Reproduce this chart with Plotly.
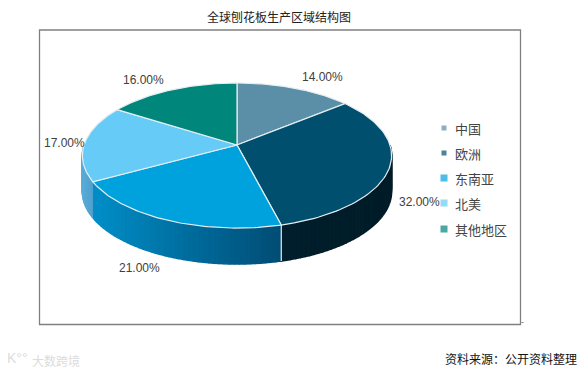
import numpy as np
import plotly.graph_objects as go

title = "全球刨花板生产区域结构图"
source = "资料来源：公开资料整理"
watermark = "大数跨境"
categories = ["中国", "欧洲", "东南亚", "北美", "其他地区"]
shares = [14, 32, 21, 17, 16]
colors = ["#5b8fa8", "#004f6e", "#00a2de", "#66ccf7", "#00867a"]
side_left = [None, (0, 30, 44), (0, 142, 200), (90, 172, 214), None]
side_right = [None, (0, 28, 40), (0, 76, 116), (80, 160, 205), None]
label_xy = [(322, 77), (419, 202), (139, 268), (64, 143), (143, 80)]
legend_y = [128, 153, 178, 203, 229]
legend_size = [6, 6, 8, 8, 8]

CX, CY, B, A, K, DEPTH = 237, 145, 153, 71, 0.145, 36
OFF = 8  # page body margin


def project(t):
    t = np.asarray(t, dtype=float)
    x, z = np.sin(t), np.cos(t)
    d = 1 + K * z
    return CX + B * x / d, CY - A * z / d


fig = go.Figure()


def poly(xs, ys, fill, line="rgba(0,0,0,0)", width=0):
    fig.add_trace(go.Scatter(x=list(xs), y=list(ys), mode="lines", fill="toself",
                             fillcolor=fill, line=dict(color=line, width=width),
                             showlegend=False, hoverinfo="skip"))


edges = np.radians(np.cumsum([0] + shares) * 3.6)

# side wall (front half only)
for i in range(len(shares)):
    if side_left[i] is None:
        continue
    a0, a1 = max(edges[i], np.pi / 2), min(edges[i + 1], 3 * np.pi / 2)
    if a1 <= a0:
        continue
    ts = np.linspace(a0, a1, 46)
    x, y = project(ts)
    lo, hi = x.min(), x.max()
    for j in range(len(ts) - 1):
        u = ((x[j] + x[j + 1]) / 2 - lo) / (hi - lo)
        c = [round(side_left[i][k] + (side_right[i][k] - side_left[i][k]) * u) for k in range(3)]
        col = f"rgb({c[0]},{c[1]},{c[2]})"
        poly([x[j], x[j + 1], x[j + 1], x[j]],
             [y[j], y[j + 1], y[j + 1] + DEPTH, y[j] + DEPTH], col, col, 1.5)

# white seam on the front wall
sx, sy = project(edges[2])
fig.add_trace(go.Scatter(x=[sx, sx], y=[sy, sy + DEPTH], mode="lines",
                         line=dict(color="#e8eef2", width=1.2),
                         showlegend=False, hoverinfo="skip"))

# top face
for i in range(len(shares)):
    ts = np.linspace(edges[i], edges[i + 1], 80)
    x, y = project(ts)
    poly(np.r_[CX, x, CX], np.r_[CY, y, CY], colors[i], "#e6eef2", 1.2)

# legend markers
fig.add_trace(go.Scatter(x=[444] * 2, y=legend_y[:2], mode="markers",
                         marker=dict(symbol="square", size=legend_size[:2], color=colors[:2]),
                         showlegend=False, hoverinfo="skip"))
fig.add_trace(go.Scatter(x=[444] * 3, y=legend_y[2:], mode="markers",
                         marker=dict(symbol="square", size=legend_size[2:], color=colors[2:]),
                         showlegend=False, hoverinfo="skip"))

ann = []
LAT = "Liberation Sans, Arial, sans-serif"
CJK = "Noto Sans CJK SC, sans-serif"
for s, (lx, ly) in zip(shares, label_xy):
    ann.append(dict(x=lx, y=ly, text=f"{s:.2f}%", showarrow=False,
                    font=dict(family=LAT, size=12, color="#404040")))
for name, ly in zip(categories, legend_y):
    ann.append(dict(x=453, y=ly, text=name, xanchor="left", showarrow=False,
                    font=dict(family=CJK, size=13, color="#444444")))
ann.append(dict(x=279, y=16, text=title, showarrow=False,
                font=dict(family=CJK, size=12, color="#222222")))
ann.append(dict(x=579, y=358, text=source, xanchor="right", showarrow=False,
                font=dict(family=CJK, size=12, color="#111111")))
ann.append(dict(x=30, y=360, text=watermark, xanchor="left", showarrow=False,
                font=dict(family=CJK, size=12, color="#dcdcdc")))
ann.append(dict(x=17, y=358, text="K°°", showarrow=False,
                font=dict(family=LAT, size=14, color="#dcdcdc")))

fig.update_layout(
    width=585 - OFF, height=372 - OFF, autosize=False,
    margin=dict(l=0, r=0, t=0, b=0),
    paper_bgcolor="white", plot_bgcolor="white",
    xaxis=dict(range=[OFF, 585], visible=False, fixedrange=True),
    yaxis=dict(range=[372, OFF], visible=False, fixedrange=True),
    annotations=ann,
    shapes=[dict(type="rect", x0=39.5, y0=30, x1=520.5, y1=324.5,
                 line=dict(color="#808080", width=1.3), layer="below"),
            dict(type="line", x0=521.5, y0=322.5, x1=523.5, y1=322.5,
                 line=dict(color="#808080", width=1))],
)
fig.write_html("out.html", config=dict(displayModeBar=False))
